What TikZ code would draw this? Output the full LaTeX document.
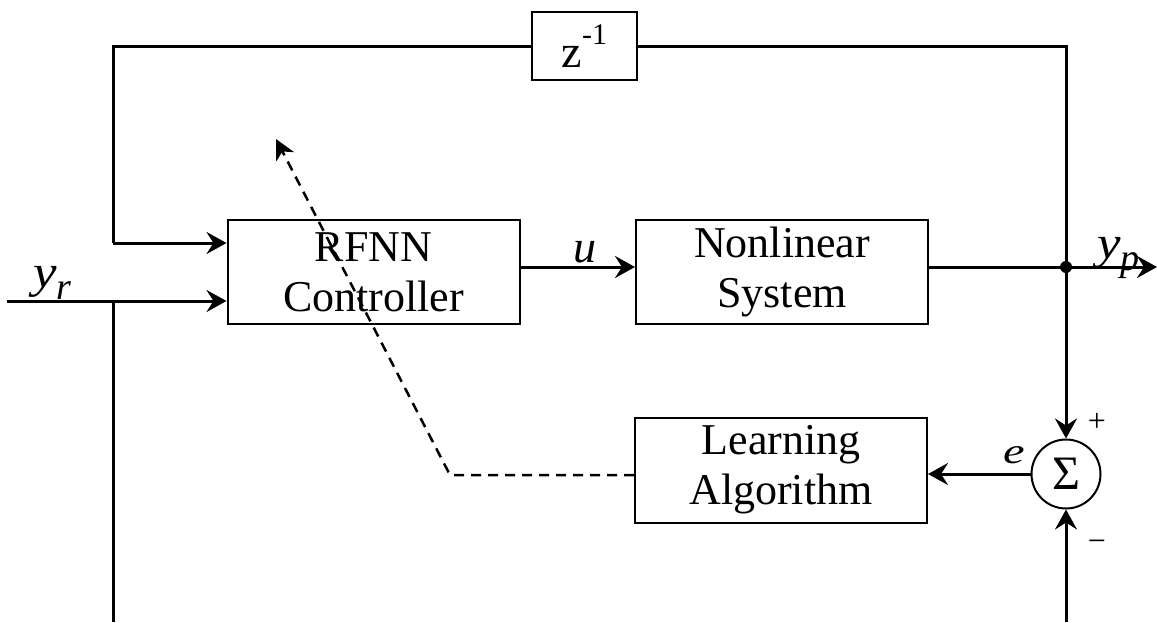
\documentclass[tikz,border=0pt]{standalone}
\usepackage{fontspec}
\setmainfont{Liberation Serif}
\usetikzlibrary{arrows.meta}
\newcommand{\lblsub}[1]{\raisebox{-0.28em}{\fontsize{38}{38}\selectfont #1}}
\begin{document}
\begin{tikzpicture}[x=1pt,y=-1pt,
  blk/.style={draw,line width=2pt,minimum width=#1,inner sep=0pt,align=center,font=\fontsize{44}{50}\selectfont},
  conn/.style={line width=3pt},
  arr/.style={conn,-{Stealth[length=20pt,width=22pt,inset=7pt]}},
  lbl/.style={font=\fontsize{46}{46}\selectfont\itshape,inner sep=0pt},
  sgn/.style={font=\fontsize{32}{32}\selectfont,inner sep=0pt}]
\useasboundingbox (0,0) rectangle (1157,622);
% blocks
\node[blk=292pt,minimum height=104pt] (ctrl) at (373.5,272) {RFNN\\Controller};
\node[blk=292pt,minimum height=104pt] (plant) at (782,272) {Nonlinear\\System};
\node[blk=292pt,minimum height=105pt] (learn) at (781,470) {Learning\\Algorithm};
\node[blk=105pt,minimum height=68pt,font=\fontsize{46}{46}\selectfont] (zd) at (584.5,46) {z\raisebox{0.5em}{\fontsize{30}{30}\selectfont -1}};
\node[draw,circle,line width=2pt,minimum size=69pt,inner sep=0pt,font=\fontsize{48}{48}\selectfont] (sum) at (1066,474) {Σ};
% coordinates
\coordinate (yin) at (7,301);
\coordinate (ysplit) at (113,301);
\coordinate (ybot) at (113,622);
\coordinate (ltop) at (113,46);
\coordinate (lmid) at (113,243);
\coordinate (rtop) at (1066,46);
\coordinate (junc) at (1066,267);
\coordinate (yout) at (1157,267);
\coordinate (rbot) at (1066,622);
\coordinate (dcorner) at (450,475);
\coordinate (dtip) at (276,139);
% connectors
\draw[arr] (yin) -- (ctrl.west |- yin);
\draw[conn] (ysplit) -- (ybot);
\draw[conn] (zd.west) -- (ltop) -- (lmid);
\draw[arr] (lmid) -- (ctrl.west |- lmid);
\draw[conn] (zd.east) -- (rtop) -- (junc);
\draw[arr] (ctrl.east |- junc) -- (plant.west |- junc);
\draw[arr] (plant.east |- junc) -- (yout);
\draw[arr] (junc) -- (sum.north);
\draw[arr] (rbot) -- (sum.south);
\draw[arr] (sum.west) -- (learn.east |- sum.west);
\draw[line width=2.5pt,dash pattern=on 10pt off 7pt,-{Stealth[length=20pt,width=20pt,inset=6pt]}] (learn.west |- dcorner) -- (dcorner) -- (dtip);
\fill (junc) circle (6pt);
% labels
\node[lbl,anchor=base west] (lyr) at (33,287) {\scalebox{1.15}[1]{y}\lblsub{r}};
\node[lbl,anchor=base] (lu) at (585,262) {u};
\node[lbl,anchor=base west] (lyp) at (1097,258) {\scalebox{1.15}[1]{y}\lblsub{p}};
\node[lbl,anchor=base,font=\fontsize{36}{36}\selectfont\itshape] (le) at (1014,463) {\scalebox{1.35}[1]{e}};
\node[sgn] (lplus) at (1097,422) {+};
\node[sgn] (lminus) at (1097,546) {−};
\end{tikzpicture}
\end{document}
